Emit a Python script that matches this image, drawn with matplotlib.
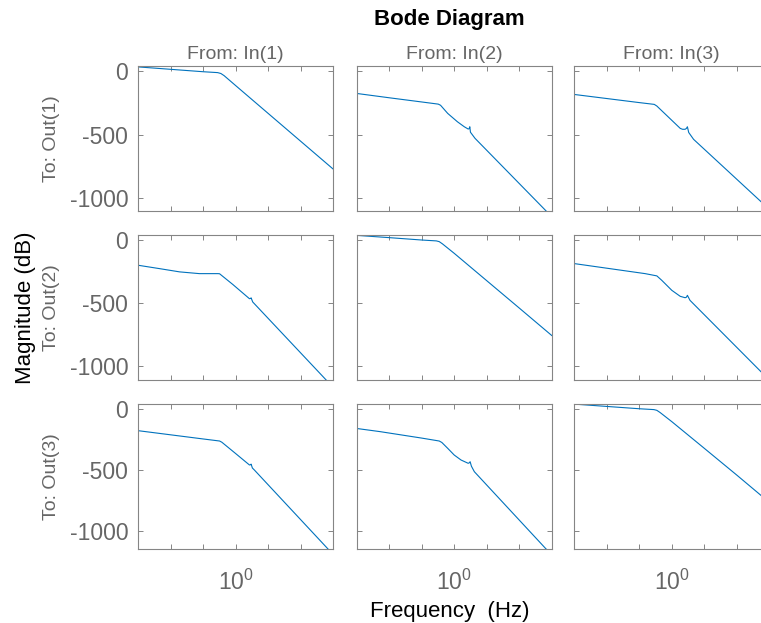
import numpy as np
import matplotlib
matplotlib.use("Agg")
import matplotlib.pyplot as plt
import matplotlib.ticker as ticker

plt.rcParams['font.family'] = ['Liberation Sans', 'DejaVu Sans']
plt.rcParams['axes.unicode_minus'] = False

# frequency exponents (log10 Hz) and magnitudes (dB), one pair per I/O channel
d11 = [-3, -2, -1, -0.55, -0.45, -0.35, 0, 1, 2, 3]
m11 = [34, 15, -4, -11, -18, -35, -112, -331, -550, -769]
d12 = [-3, -2, -1, -0.49, -0.42, -0.2, 0.1, 0.31, 0.43, 0.46, 0.48, 0.50, 0.64, 2.81, 3]
m12 = [-175, -209, -242, -259, -268, -332, -398, -437, -455, -452, -437, -480, -528, -1095, -1145]
d13 = [-3, -2, -1, -0.54, -0.46, 0.26, 0.33, 0.41, 0.45, 0.48, 0.52, 0.67, 2.76, 3]
m13 = [-183, -215, -247, -261, -274, -450, -457, -457, -450, -437, -482, -536, -1030, -1087]

d21 = [-3, -2.34, -1.72, -1.11, -0.54, -0.49, -0.08, 0.43, 0.46, 0.48, 0.53, 2.79, 3]
m21 = [-200, -227, -253, -267, -267, -268, -354, -467, -465, -460, -493, -1115, -1173]
d22 = [-3, -2, -1, -0.55, -0.46, -0.36, 0, 1, 2, 3]
m22 = [38, 20, 1, -6, -12, -30, -105, -323, -541, -760]
d23 = [-3, -0.82, -0.46, -0.31, 0, 0.26, 0.41, 0.45, 0.48, 0.56, 2.76, 3]
m23 = [-187, -267, -285, -320, -400, -448, -459, -455, -440, -480, -1053, -1115]

d31 = [-3, -2, -1, -0.49, -0.42, 0, 0.43, 0.46, 0.48, 0.52, 0.58, 2.84, 3]
m31 = [-178, -212, -246, -263, -273, -365, -460, -458, -453, -485, -501, -1148, -1194]
d32 = [-3, -2.28, -1, -0.46, -0.38, -0.2, 0, 0.21, 0.43, 0.46, 0.49, 0.53, 0.62, 2.81, 3]
m32 = [-160, -186, -239, -263, -275, -323, -378, -419, -446, -443, -433, -470, -515, -1145, -1195]
d33 = [-3, -2, -1, -0.55, -0.46, -0.36, 0, 1, 2, 3]
m33 = [40, 21, 2, -5, -11, -29, -104, -323, -543, -767]

curves = [[(d11, m11), (d12, m12), (d13, m13)],
          [(d21, m21), (d22, m22), (d23, m23)],
          [(d31, m31), (d32, m32), (d33, m33)]]

row_ylims = [(-1100, 41), (-1115, 41), (-1150, 41)]
yticks = [-1000, -500, 0]
ytick_labels = ['-1000', '-500', '0']
in_labels = ['From: In(1)', 'From: In(2)', 'From: In(3)']
out_labels = ['To: Out(1)', 'To: Out(2)', 'To: Out(3)']

W, H = 761, 623
fig = plt.figure(figsize=(W / 100, H / 100), dpi=100)

gray = '#666666'
spine_gray = '#858585'
col_left = [138, 356.7, 574.3]
row_top = [66, 235, 404]
ax_w, ax_h = 195, 145

for r in range(3):
    for c in range(3):
        ax = fig.add_axes([col_left[c] / W, 1 - (row_top[r] + ax_h) / H, ax_w / W, ax_h / H])
        d, m = curves[r][c]
        ax.semilogx(10.0 ** np.array(d), m, color='#0072BD', lw=0.8)
        ax.set_xlim(1e-3, 1e3)
        ax.set_ylim(*row_ylims[r])
        ax.xaxis.set_major_locator(ticker.FixedLocator([1e-3, 1e-2, 1e-1, 1, 1e1, 1e2, 1e3]))
        ax.xaxis.set_minor_locator(ticker.NullLocator())
        ax.set_yticks(yticks)
        ax.tick_params(which='both', direction='in', top=True, right=True, length=3.5,
                       width=0.7, color=spine_gray, labelcolor=gray, labelsize=16.5, pad=7)
        ax.tick_params(axis='x', pad=15)
        for s in ax.spines.values():
            s.set_color(spine_gray)
            s.set_linewidth(0.8)
        if c == 0:
            ax.set_yticklabels(ytick_labels)
        else:
            ax.set_yticklabels([])
        if r == 2:
            ax.xaxis.set_major_formatter(ticker.FuncFormatter(
                lambda v, p: r'$\mathdefault{10^{0}}$' if abs(v - 1) < 1e-9 else ''))
        else:
            ax.set_xticklabels([])
        if r == 0:
            ax.set_title(in_labels[c], color=gray, fontsize=14, pad=5)
        if c == 0:
            fig.text(52 / W, 1 - (row_top[r] + ax_h / 2) / H, out_labels[r], color=gray,
                     fontsize=14, rotation=90, ha='center', va='center')

fig.text(449 / W, 1 - 20 / H, 'Bode Diagram', fontsize=16, fontweight='bold',
         ha='center', va='center')
fig.text(26 / W, 1 - 308 / H, 'Magnitude (dB)', fontsize=16, rotation=90,
         ha='center', va='center')
fig.text(450 / W, 1 - 611 / H, 'Frequency  (Hz)', fontsize=16, ha='center', va='center')

fig.savefig('out.png', dpi=100)
